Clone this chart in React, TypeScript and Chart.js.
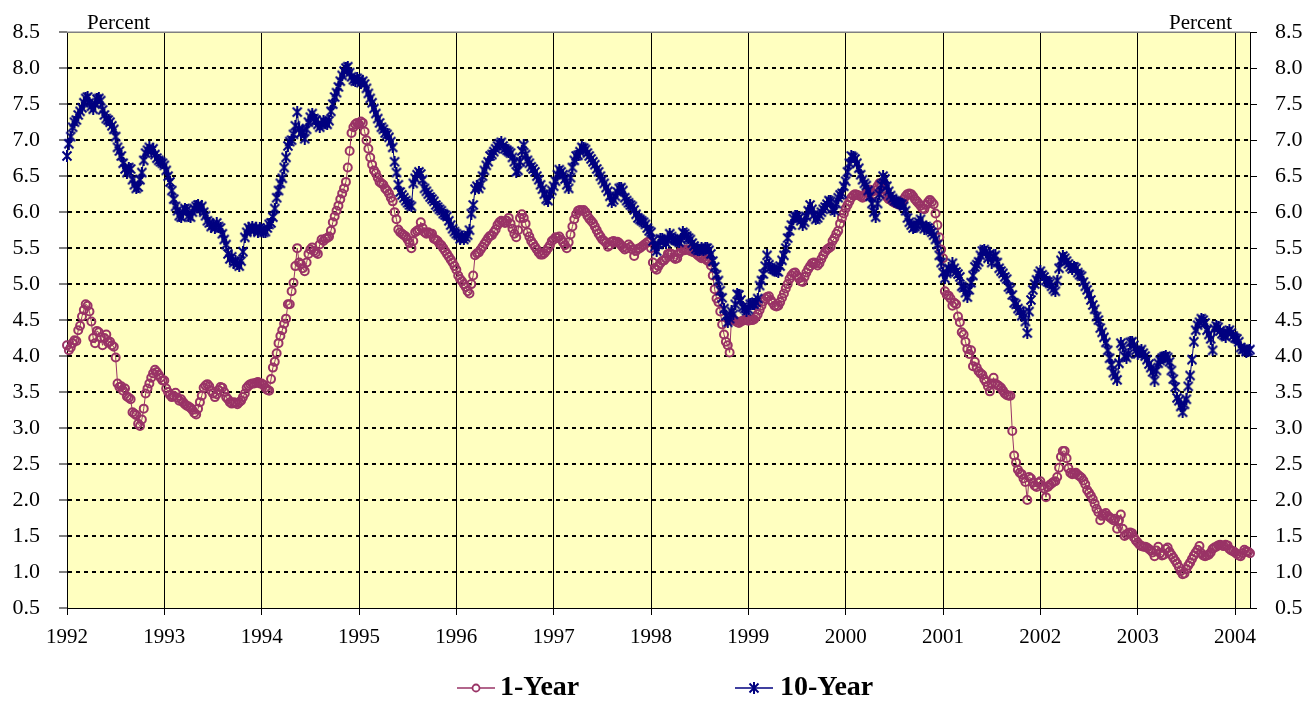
import React, { useEffect, useRef } from 'react';
import { Chart, registerables } from 'chart.js';

Chart.register(...registerables);

// ---- Axis / category data ----
const years = [1992, 1993, 1994, 1995, 1996, 1997, 1998, 1999, 2000, 2001, 2002, 2003, 2004];
const WEEKS_PER_YEAR = 52;
const lastWeekIndex2004 = 8;
const yMin = 0.5;
const yMax = 8.5;
const yStep = 0.5;
const seriesLabels = ['1-Year', '10-Year'];
const axisTitle = 'Percent';

// ---- 1-Year Treasury yield, weekly (percent) ----
const oneYear1992 = [4.15,4.08,4.12,4.18,4.22,4.21,4.36,4.42,4.55,4.64,4.72,4.70,4.62,4.48,4.25,4.18,4.35,4.33,4.26,4.15,4.25,4.30,4.19,4.20,4.15,4.13,3.98,3.62,3.57,3.58,3.52,3.55,3.44,3.42,3.40,3.22,3.20,3.18,3.06,3.03,3.12,3.27,3.48,3.55,3.62,3.70,3.76,3.81,3.78,3.74,3.70,3.66];
const oneYear1993 = [3.66,3.55,3.50,3.46,3.43,3.45,3.49,3.42,3.38,3.40,3.36,3.33,3.31,3.30,3.28,3.25,3.21,3.19,3.27,3.36,3.45,3.56,3.59,3.61,3.58,3.52,3.48,3.43,3.47,3.53,3.57,3.56,3.50,3.43,3.40,3.36,3.34,3.36,3.35,3.33,3.36,3.38,3.43,3.48,3.56,3.59,3.61,3.62,3.62,3.63,3.64,3.62];
const oneYear1994 = [3.62,3.60,3.56,3.53,3.52,3.68,3.84,3.92,4.04,4.18,4.28,4.36,4.45,4.52,4.72,4.72,4.90,5.02,5.25,5.50,5.30,5.28,5.22,5.18,5.30,5.42,5.48,5.51,5.46,5.44,5.42,5.55,5.62,5.60,5.63,5.64,5.66,5.74,5.86,5.94,6.02,6.09,6.18,6.26,6.33,6.42,6.62,6.85,7.10,7.18,7.22,7.24];
const oneYear1995 = [7.22,7.26,7.24,7.12,7.00,6.88,6.76,6.66,6.58,6.54,6.48,6.42,6.40,6.38,6.33,6.30,6.26,6.20,6.15,6.00,5.90,5.76,5.72,5.70,5.68,5.66,5.62,5.57,5.50,5.60,5.72,5.74,5.76,5.86,5.78,5.72,5.70,5.72,5.70,5.70,5.63,5.62,5.60,5.56,5.54,5.50,5.46,5.42,5.38,5.34,5.30,5.25];
const oneYear1996 = [5.20,5.12,5.07,5.04,5.00,4.96,4.90,4.87,5.00,5.12,5.40,5.43,5.44,5.48,5.52,5.56,5.60,5.64,5.67,5.68,5.72,5.76,5.82,5.86,5.88,5.87,5.85,5.88,5.92,5.84,5.77,5.70,5.65,5.75,5.92,5.97,5.92,5.84,5.72,5.66,5.60,5.56,5.52,5.48,5.44,5.41,5.41,5.43,5.46,5.50,5.54,5.60];
const oneYear1997 = [5.62,5.65,5.64,5.66,5.62,5.58,5.54,5.50,5.58,5.69,5.80,5.90,5.97,6.02,6.03,6.02,6.03,6.00,5.95,5.91,5.88,5.85,5.80,5.75,5.70,5.66,5.62,5.60,5.57,5.52,5.54,5.59,5.60,5.58,5.59,5.57,5.54,5.51,5.48,5.50,5.55,5.52,5.48,5.39,5.46,5.49,5.50,5.52,5.54,5.56,5.58,5.59];
const oneYear1998 = [5.50,5.30,5.22,5.20,5.25,5.29,5.32,5.33,5.36,5.42,5.43,5.42,5.37,5.35,5.36,5.43,5.46,5.48,5.47,5.48,5.48,5.46,5.45,5.44,5.43,5.40,5.38,5.36,5.37,5.35,5.33,5.31,5.26,5.12,4.93,4.80,4.75,4.62,4.44,4.30,4.20,4.15,4.05,4.52,4.50,4.49,4.47,4.46,4.48,4.49,4.50,4.51];
const oneYear1999 = [4.49,4.50,4.50,4.51,4.54,4.58,4.64,4.70,4.76,4.80,4.82,4.83,4.78,4.74,4.70,4.69,4.70,4.75,4.81,4.87,4.94,5.00,5.07,5.12,5.15,5.16,5.12,5.08,5.04,5.03,5.10,5.16,5.21,5.25,5.29,5.30,5.29,5.26,5.29,5.35,5.40,5.45,5.48,5.50,5.52,5.60,5.64,5.70,5.74,5.84,5.92,5.98];
const oneYear2000 = [6.05,6.10,6.15,6.20,6.23,6.25,6.24,6.23,6.22,6.20,6.22,6.27,6.30,6.31,6.28,6.25,6.30,6.36,6.40,6.38,6.32,6.26,6.21,6.18,6.17,6.15,6.13,6.12,6.11,6.10,6.14,6.18,6.22,6.25,6.26,6.25,6.22,6.18,6.15,6.12,6.09,6.05,6.04,6.10,6.14,6.17,6.14,6.11,5.98,5.82,5.65,5.48];
const oneYear2001 = [5.36,4.90,4.85,4.84,4.80,4.70,4.74,4.72,4.55,4.47,4.33,4.30,4.20,4.10,4.03,4.08,3.86,3.92,3.84,3.79,3.76,3.74,3.68,3.64,3.58,3.51,3.62,3.70,3.62,3.60,3.58,3.56,3.52,3.48,3.46,3.45,3.45,2.96,2.62,2.52,2.42,2.38,2.36,2.30,2.25,2.00,2.32,2.30,2.24,2.20,2.18,2.24];
const oneYear2002 = [2.26,2.20,2.16,2.04,2.18,2.21,2.23,2.25,2.26,2.32,2.45,2.60,2.68,2.68,2.58,2.44,2.38,2.36,2.37,2.38,2.35,2.33,2.31,2.27,2.22,2.14,2.10,2.06,2.01,1.95,1.88,1.83,1.72,1.78,1.80,1.82,1.78,1.76,1.74,1.72,1.74,1.60,1.72,1.80,1.60,1.50,1.52,1.54,1.55,1.54,1.48,1.44];
const oneYear2003 = [1.41,1.38,1.36,1.35,1.35,1.34,1.32,1.30,1.27,1.22,1.30,1.35,1.26,1.23,1.24,1.32,1.34,1.28,1.24,1.20,1.16,1.12,1.07,1.01,0.97,0.98,1.04,1.09,1.13,1.18,1.23,1.27,1.31,1.36,1.26,1.23,1.22,1.23,1.24,1.27,1.32,1.34,1.35,1.37,1.38,1.37,1.36,1.38,1.37,1.32,1.30,1.29];
const oneYear2004 = [1.27,1.25,1.23,1.22,1.26,1.31,1.29,1.28,1.26];

// ---- 10-Year Treasury yield, weekly (percent) ----
const tenYear1992 = [6.78,6.95,7.05,7.18,7.25,7.28,7.35,7.40,7.45,7.52,7.58,7.60,7.52,7.47,7.43,7.50,7.57,7.58,7.55,7.42,7.35,7.30,7.28,7.25,7.20,7.15,7.05,6.90,6.85,6.78,6.68,6.60,6.55,6.62,6.60,6.45,6.38,6.33,6.35,6.45,6.55,6.72,6.82,6.86,6.90,6.85,6.88,6.80,6.75,6.72,6.70,6.68];
const tenYear1993 = [6.65,6.58,6.50,6.42,6.30,6.18,6.08,6.02,5.95,5.93,6.00,6.05,6.03,5.95,5.93,6.00,6.05,6.08,6.10,6.05,6.08,6.00,5.95,5.88,5.85,5.80,5.82,5.78,5.85,5.80,5.78,5.70,5.62,5.55,5.42,5.35,5.38,5.30,5.32,5.28,5.25,5.32,5.45,5.65,5.72,5.78,5.75,5.80,5.75,5.78,5.72,5.78];
const tenYear1994 = [5.75,5.72,5.73,5.78,5.83,5.85,5.93,6.05,6.20,6.30,6.40,6.47,6.62,6.76,6.92,6.98,7.00,7.08,7.20,7.39,7.16,7.10,7.12,7.02,7.15,7.25,7.32,7.37,7.30,7.28,7.22,7.18,7.22,7.27,7.24,7.22,7.27,7.40,7.50,7.60,7.66,7.74,7.82,7.90,7.96,8.00,8.02,7.94,7.88,7.84,7.82,7.86];
const tenYear1995 = [7.84,7.80,7.82,7.78,7.72,7.65,7.58,7.52,7.44,7.37,7.30,7.24,7.18,7.15,7.10,7.08,7.04,6.98,6.90,6.70,6.55,6.38,6.28,6.24,6.20,6.16,6.13,6.10,6.08,6.40,6.47,6.52,6.56,6.53,6.45,6.33,6.29,6.25,6.21,6.18,6.15,6.10,6.07,6.04,6.02,5.98,5.96,5.94,5.88,5.82,5.77,5.73];
const tenYear1996 = [5.70,5.68,5.63,5.65,5.62,5.65,5.68,5.75,5.98,6.10,6.32,6.36,6.33,6.38,6.50,6.58,6.65,6.70,6.78,6.80,6.84,6.88,6.92,6.95,6.97,6.92,6.88,6.86,6.84,6.82,6.76,6.70,6.56,6.58,6.70,6.85,6.93,6.80,6.72,6.68,6.63,6.60,6.56,6.50,6.45,6.38,6.32,6.25,6.18,6.16,6.25,6.30];
const tenYear1997 = [6.36,6.43,6.52,6.59,6.56,6.52,6.46,6.38,6.33,6.48,6.62,6.72,6.78,6.79,6.84,6.90,6.89,6.87,6.82,6.78,6.74,6.70,6.66,6.60,6.56,6.50,6.45,6.40,6.34,6.29,6.22,6.14,6.17,6.22,6.28,6.33,6.34,6.30,6.20,6.16,6.13,6.10,6.08,6.03,5.97,5.92,5.90,5.88,5.86,5.83,5.78,5.74];
const tenYear1998 = [5.72,5.60,5.52,5.46,5.55,5.63,5.62,5.60,5.57,5.62,5.70,5.66,5.63,5.61,5.60,5.58,5.62,5.72,5.70,5.67,5.64,5.62,5.57,5.53,5.49,5.47,5.48,5.50,5.48,5.50,5.50,5.47,5.42,5.32,5.24,5.13,5.05,4.91,4.81,4.66,4.56,4.47,4.52,4.62,4.58,4.72,4.86,4.85,4.78,4.68,4.66,4.63];
const tenYear1999 = [4.65,4.72,4.73,4.72,4.75,4.80,4.98,5.05,5.14,5.25,5.40,5.27,5.23,5.21,5.20,5.18,5.17,5.25,5.33,5.40,5.50,5.64,5.74,5.82,5.91,5.94,5.94,5.92,5.88,5.82,5.86,5.94,6.02,6.10,6.04,5.96,5.90,5.92,5.96,6.00,6.04,6.07,6.11,6.16,6.15,6.05,6.02,6.12,6.20,6.24,6.26,6.36];
const tenYear2000 = [6.43,6.56,6.68,6.78,6.76,6.74,6.68,6.61,6.52,6.45,6.40,6.37,6.30,6.22,6.12,6.00,5.93,6.12,6.25,6.38,6.50,6.46,6.36,6.29,6.23,6.19,6.16,6.15,6.13,6.12,6.11,6.08,6.02,5.92,5.86,5.82,5.78,5.80,5.82,5.86,5.90,5.82,5.77,5.80,5.78,5.75,5.72,5.68,5.62,5.55,5.40,5.30];
const tenYear2001 = [5.16,5.08,5.15,5.22,5.20,5.29,5.22,5.17,5.14,5.10,4.97,4.95,4.88,4.82,4.92,5.02,5.12,5.24,5.27,5.31,5.40,5.46,5.48,5.45,5.36,5.42,5.30,5.38,5.40,5.30,5.22,5.18,5.15,5.10,5.07,4.96,4.93,4.85,4.74,4.72,4.66,4.63,4.56,4.60,4.48,4.32,4.62,4.78,4.92,5.00,5.06,5.14];
const tenYear2002 = [5.18,5.13,5.10,5.05,5.03,5.01,4.97,4.93,4.90,5.05,5.22,5.33,5.39,5.36,5.32,5.28,5.24,5.21,5.24,5.22,5.16,5.13,5.11,5.03,4.97,4.92,4.86,4.78,4.71,4.65,4.55,4.50,4.39,4.33,4.26,4.19,4.08,3.97,3.88,3.77,3.73,3.67,3.90,4.18,4.14,4.00,3.98,4.03,4.19,4.20,4.15,4.08];
const tenYear2003 = [4.03,4.06,4.09,4.04,4.00,3.95,3.89,3.84,3.78,3.66,3.80,3.90,3.94,3.97,3.99,4.00,3.98,3.92,3.80,3.68,3.57,3.42,3.38,3.30,3.22,3.33,3.40,3.58,3.73,3.95,4.20,4.36,4.43,4.47,4.52,4.50,4.46,4.36,4.30,4.24,4.08,4.38,4.42,4.40,4.35,4.31,4.29,4.27,4.33,4.36,4.32,4.28];
const tenYear2004 = [4.25,4.24,4.20,4.12,4.09,4.10,4.06,4.07,4.09];

const oneYearByYear = [oneYear1992, oneYear1993, oneYear1994, oneYear1995, oneYear1996, oneYear1997, oneYear1998, oneYear1999, oneYear2000, oneYear2001, oneYear2002, oneYear2003, oneYear2004];
const tenYearByYear = [tenYear1992, tenYear1993, tenYear1994, tenYear1995, tenYear1996, tenYear1997, tenYear1998, tenYear1999, tenYear2000, tenYear2001, tenYear2002, tenYear2003, tenYear2004];

// ---- styles ----
const PLUM = '#993366';
const NAVY = '#000080';
const PLOT_BG = '#FFFFC0';
const SERIF = "'Liberation Serif', 'Times New Roman', serif";

function weeklyPoints(rows: number[][]) {
  const pts: { x: number; y: number }[] = [];
  rows.forEach((row, i) => {
    row.forEach((v, k) => pts.push({ x: years[i] + k / WEEKS_PER_YEAR, y: v }));
  });
  return pts;
}

function makeStar(): HTMLCanvasElement {
  const c = document.createElement('canvas');
  c.width = 12;
  c.height = 12;
  const s = c.getContext('2d')!;
  s.strokeStyle = NAVY;
  s.lineWidth = 2;
  s.beginPath();
  s.moveTo(1.5, 1.5); s.lineTo(10.5, 10.5);
  s.moveTo(10.5, 1.5); s.lineTo(1.5, 10.5);
  s.moveTo(6, 0); s.lineTo(6, 12);
  s.stroke();
  return c;
}

export default function App() {
  const ref = useRef<HTMLCanvasElement>(null);

  useEffect(() => {
    const canvas = ref.current;
    if (!canvas) return;
    const star = makeStar();

    const plotBg = {
      id: 'plotBg',
      beforeDraw(chart: any) {
        const { ctx, chartArea: a } = chart;
        ctx.save();
        ctx.fillStyle = PLOT_BG;
        ctx.fillRect(a.left, a.top, a.right - a.left, a.bottom - a.top);
        ctx.restore();
      },
    };

    const legendLayout = [
      { lineFrom: 457, lineTo: 495, textX: 500 },
      { lineFrom: 735, lineTo: 773, textX: 780 },
    ];

    const decorations = {
      id: 'decorations',
      afterDraw(chart: any) {
        const { ctx, chartArea: a } = chart;
        ctx.save();
        // top frame line
        ctx.strokeStyle = '#808080';
        ctx.lineWidth = 1.5;
        ctx.beginPath();
        ctx.moveTo(a.left, a.top);
        ctx.lineTo(a.right, a.top);
        ctx.stroke();
        // axis titles
        ctx.fillStyle = '#000';
        ctx.font = `21px ${SERIF}`;
        ctx.textBaseline = 'alphabetic';
        ctx.textAlign = 'left';
        ctx.fillText(axisTitle, a.left + 20, a.top - 3);
        ctx.textAlign = 'right';
        ctx.fillText(axisTitle, a.right - 18, a.top - 3);
        // legend
        const ly = 688;
        chart.data.datasets.forEach((ds: any, i: number) => {
          const L = legendLayout[i];
          ctx.strokeStyle = ds.borderColor;
          ctx.lineWidth = 1.5;
          ctx.beginPath();
          ctx.moveTo(L.lineFrom, ly);
          ctx.lineTo(L.lineTo, ly);
          ctx.stroke();
          const cx = (L.lineFrom + L.lineTo) / 2;
          if (ds.pointStyle === 'circle') {
            ctx.fillStyle = '#fff';
            ctx.lineWidth = 1.8;
            ctx.beginPath();
            ctx.arc(cx, ly, 3.5, 0, Math.PI * 2);
            ctx.fill();
            ctx.stroke();
          } else {
            ctx.drawImage(star, cx - star.width / 2, ly - star.height / 2);
          }
          ctx.fillStyle = '#000';
          ctx.font = `bold 28px ${SERIF}`;
          ctx.textAlign = 'left';
          ctx.textBaseline = 'middle';
          ctx.fillText(ds.label, L.textX, ly);
        });
        ctx.restore();
      },
    };

    const hGridColor = (c: any) =>
      c.tick && (c.tick.value <= yMin + 1e-9 || c.tick.value >= yMax - 1e-9) ? 'rgba(0,0,0,0)' : '#000';

    const yTicks = {
      stepSize: yStep,
      color: '#000',
      font: { family: SERIF, size: 22 },
      callback: (v: any) => Number(v).toFixed(1),
    };

    const chart = new Chart(canvas, {
      type: 'line',
      data: {
        datasets: [
          {
            label: seriesLabels[0],
            data: weeklyPoints(oneYearByYear),
            borderColor: PLUM,
            borderWidth: 1,
            pointStyle: 'circle',
            pointRadius: 4,
            pointBorderWidth: 2,
            pointBorderColor: PLUM,
            pointBackgroundColor: 'rgba(0,0,0,0)',
            tension: 0,
            order: 2,
            clip: false,
          } as any,
          {
            label: seriesLabels[1],
            data: weeklyPoints(tenYearByYear),
            borderColor: NAVY,
            borderWidth: 1,
            pointStyle: star,
            pointRadius: 4,
            pointBorderColor: NAVY,
            pointBackgroundColor: NAVY,
            tension: 0,
            order: 1,
            clip: false,
          } as any,
        ],
      },
      options: {
        animation: false,
        responsive: false,
        events: [],
        layout: { padding: { top: 28, left: 0, right: 0, bottom: 0 } },
        plugins: { legend: { display: false }, tooltip: { enabled: false } },
        scales: {
          x: {
            type: 'linear',
            min: years[0],
            max: years[years.length - 1] + lastWeekIndex2004 / WEEKS_PER_YEAR,
            afterBuildTicks: (s: any) => {
              s.ticks = years.map((v) => ({ value: v }));
            },
            afterFit: (s: any) => {
              s.height = 94;
            },
            ticks: {
              autoSkip: false,
              maxRotation: 0,
              padding: 10,
              color: '#000',
              font: { family: SERIF, size: 21 },
              callback: (v: any) => String(v),
            },
            grid: { color: '#000', lineWidth: 1, tickLength: 7, tickColor: '#000' },
            border: { display: true, color: '#000', width: 1 },
          },
          y: {
            type: 'linear',
            position: 'left',
            min: yMin,
            max: yMax,
            afterFit: (s: any) => {
              s.width = 67;
            },
            ticks: { ...yTicks, padding: 19 },
            grid: {
              color: hGridColor,
              lineWidth: 2,
              tickLength: 8,
              tickColor: '#000',
              tickWidth: 1,
              tickBorderDash: [],
            } as any,
            border: { display: true, color: '#000', width: 1, dash: [4, 4] },
          },
          y2: {
            type: 'linear',
            position: 'right',
            min: yMin,
            max: yMax,
            afterFit: (s: any) => {
              s.width = 64;
            },
            ticks: { ...yTicks, padding: 18 },
            grid: {
              drawOnChartArea: false,
              color: '#000',
              tickLength: 7,
              tickColor: '#000',
              tickWidth: 1,
            } as any,
            border: { display: true, color: '#000', width: 1 },
          },
        },
      } as any,
      plugins: [plotBg, decorations],
    });

    return () => {
      chart.destroy();
    };
  }, []);

  return (
    <div style={{ position: 'fixed', left: 0, top: 0, width: 1314, height: 702, background: '#fff' }}>
      <canvas ref={ref} width={1314} height={702} style={{ display: 'block' }} />
    </div>
  );
}
